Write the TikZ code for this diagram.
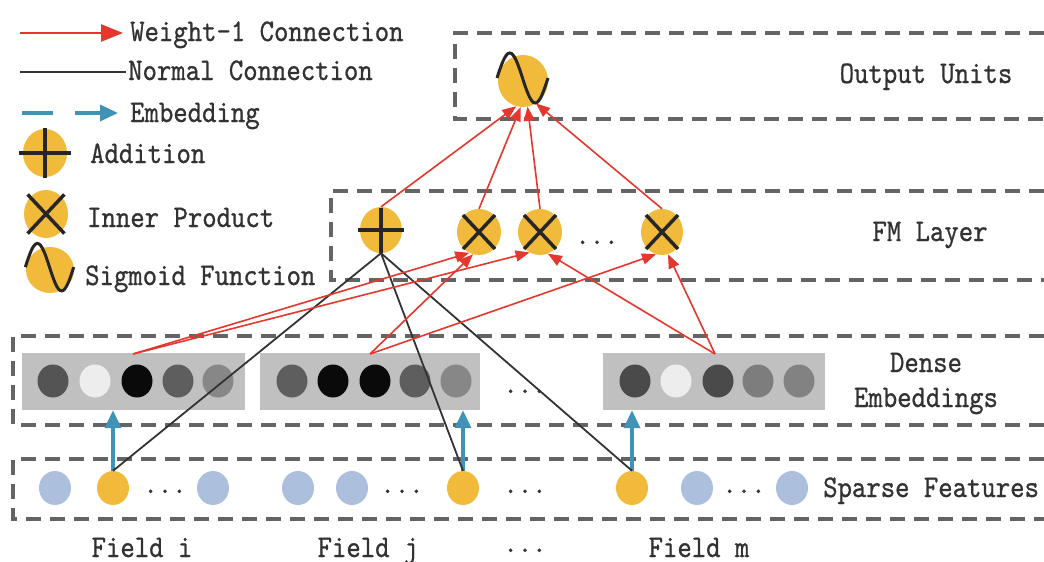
\documentclass[tikz,border=0pt]{standalone}
\usepackage{fontspec}
\usepackage{graphicx}
\usetikzlibrary{arrows.meta,shapes.geometric}
\newfontfamily\lblfont{lmmono10-regular.otf}[FakeBold=0.8]
\definecolor{redc}{RGB}{228,55,45}
\definecolor{bluec}{RGB}{64,146,182}
\definecolor{orangec}{RGB}{242,186,58}
\definecolor{sparseb}{RGB}{172,192,222}
\definecolor{rectg}{RGB}{192,192,192}
\definecolor{dashg}{RGB}{100,100,100}
\definecolor{txtc}{RGB}{50,50,50}
\newcommand{\mytx}[1]{\scalebox{1}[1.15]{#1}}
\tikzset{
  plusp/.pic={\draw[sym] (-26,0) -- (26,0); \draw[sym] (0,-25) -- (0,25);},
  crossp/.pic={\draw[sym] (-16,-17) -- (16,17) (16,-17) -- (-16,17);},
  sigp/.pic={\draw[sym,line width=3pt] (-26,-3) sin (-13.25,-28) cos (-0.5,-3) sin (12.25,22) cos (25,-3);}
}
\begin{document}
\begin{tikzpicture}[x=1pt,y=-1pt,
  lbl/.style={anchor=base west,inner sep=0pt,text=txtc,font=\lblfont\fontsize{27.4}{30}\selectfont},
  lblc/.style={lbl,anchor=base},
  dbox/.style={draw=dashg,line width=3.2pt,dash pattern=on 15pt off 9pt},
  opnode/.style={ellipse,fill=orangec,minimum width=44pt,minimum height=46pt,inner sep=0pt},
  sym/.style={line width=3.5pt,black!85,line cap=butt},
  wconn/.style={draw=redc,line width=1.6pt,-{Triangle[length=14pt,width=11pt]}},
  nconn/.style={draw=black!80,line width=1.8pt},
  econn/.style={draw=bluec,line width=3.5pt,-{Triangle[length=18pt,width=16pt]}},
  grect/.style={fill=rectg,inner sep=0pt,minimum height=57pt},
  dcirc/.style={ellipse,minimum width=31pt,minimum height=33pt,inner sep=0pt},
  scirc/.style={ellipse,minimum width=32pt,minimum height=34pt,inner sep=0pt},
]
\clip (0,0) rectangle (1044,562);
\fill[white] (0,0) rectangle (1044,562);

% dashed layer boxes
\draw[dbox] (1044,33) -| (455,119) -- (1044,119);
\draw[dbox] (1044,191) -| (331,280) -- (1044,280);
\draw[dbox] (1044,336) -| (13,425) -- (1044,425);
\draw[dbox] (1044,459) -| (13,519) -- (1044,519);

% legend
\coordinate (lwa) at (20,33); \coordinate (lwb) at (123,33);
\draw[wconn,line width=2.5pt,-{Triangle[length=22pt,width=17pt]}] (lwa) -- (lwb);
\node[lbl] (tw) at (130,41) {\mytx{Weight-1 Connection}};
\coordinate (lna) at (20,72); \coordinate (lnb) at (126,72);
\draw[nconn,line width=2.5pt] (lna) -- (lnb);
\node[lbl] (tn) at (128,80) {\mytx{Normal Connection}};
\coordinate (lea) at (22,113); \coordinate (leb) at (118,113);
\draw[econn,dash pattern=on 31pt off 22pt] (lea) -- (leb);
\node[lbl] (te) at (130,122) {\mytx{Embedding}};
\node[opnode,minimum height=48pt] (la) at (45,153) {};
\pic at (la.center) {plusp};
\node[lbl] (ta) at (90,163) {\mytx{Addition}};
\node[opnode,minimum height=48pt] (lc) at (46,214) {};
\pic[scale=1.15] at (lc.center) {crossp};
\node[lbl] (tc) at (87,227) {\mytx{Inner Product}};
\node[opnode,minimum width=48pt] (ls) at (50,270) {};
\pic[scale=0.95] at (ls.center) {sigp};
\node[lbl] (ts) at (85,285) {\mytx{Sigmoid Function}};

% layer labels
\node[lblc] (tout) at (926,83) {\mytx{Output Units}};
\node[lblc] (tfm) at (930,241) {\mytx{FM Layer}};
\node[lblc] (tde1) at (926,372) {\mytx{Dense}};
\node[lblc] (tde2) at (926,407) {\mytx{Embeddings}};
\node[lbl] (tsp) at (823,497) {\mytx{Sparse Features}};

% dense embeddings
\node[grect,minimum width=223pt] (r1) at (133.5,381.5) {};
\node[grect,minimum width=220pt] (r2) at (370,381.5) {};
\node[grect,minimum width=222pt] (r3) at (714,381.5) {};
\foreach \x/\g [count=\i] in {53/67,95/7,137/96,178/63,218/47}
  \node[dcirc,fill=black!\g] (da\i) at (\x,381) {};
\foreach \x/\g [count=\i] in {292/63,333/96,375/96,415/63,456/47}
  \node[dcirc,fill=black!\g] (db\i) at (\x,381) {};
\foreach \x/\g [count=\i] in {635/71,676/7,718/71,758/51,799/49}
  \node[dcirc,fill=black!\g] (dc\i) at (\x,381) {};
\node[lblc] (dd1) at (525,393) {...};

% sparse features
\node[scirc,fill=sparseb] (s1) at (55,488) {};
\node[scirc,fill=orangec] (fi) at (113,488) {};
\node[scirc,fill=sparseb] (s2) at (213,488) {};
\node[scirc,fill=sparseb] (s3) at (298,488) {};
\node[scirc,fill=sparseb] (s4) at (352,488) {};
\node[scirc,fill=orangec] (fj) at (463,488) {};
\node[scirc,fill=orangec] (fm) at (632,488) {};
\node[scirc,fill=sparseb] (s5) at (697,488) {};
\node[scirc,fill=sparseb] (s6) at (792,488) {};
\node[lblc] (sd1) at (165,493) {...};
\node[lblc] (sd2) at (402,493) {...};
\node[lblc] (sd3) at (525,493) {...};
\node[lblc] (sd4) at (744,493) {...};

% field labels
\node[lblc] (lfi) at (142,557) {\mytx{Field i}};
\node[lblc] (lfj) at (368,557) {\mytx{Field j}};
\node[lblc] (lfd) at (525,552) {...};
\node[lblc] (lfm) at (699,557) {\mytx{Field m}};

% FM layer
\node[opnode,minimum width=42pt] (add) at (381,230) {};
\pic[scale=0.9] at (add.center) {plusp};
\node[opnode] (c1) at (479,232) {};
\pic at (c1.center) {crossp};
\node[opnode] (c2) at (540,232) {};
\pic at (c2.center) {crossp};
\node[opnode,minimum width=42pt] (c3) at (662,232) {};
\pic at (c3.center) {crossp};
\node[lblc] (fmd) at (597,244) {...};

% output
\node[opnode,minimum width=50pt,minimum height=52pt] (out) at (523,81) {};
\pic at (out.center) {sigp};

% embedding arrows
\draw[econn] (fi.north) -- (fi.north |- r1.south);
\draw[econn] (fj.north) -- (fj.north |- r2.south);
\draw[econn] (fm.north) -- (fm.north |- r3.south);

% normal connections
\draw[nconn] (add.south) -- (fi.north);
\draw[nconn] (add.south) -- (fj.north);
\draw[nconn] (add.south) -- (fm.north);

% weight-1 connections
\coordinate (e1) at (133,354);
\coordinate (e2) at (370,354);
\coordinate (e3) at (715,354);
\draw[wconn] (e1) -- (c1.245);
\draw[wconn] (e1) -- (c2.243);
\draw[wconn] (e2) -- (c1.255);
\draw[wconn] (e2) -- (c3.255);
\draw[wconn] (e3) -- (c2.290);
\draw[wconn] (e3) -- (c3.285);
\draw[wconn] (add.north) -- (out.255);
\draw[wconn] (c1.north) -- (out.265);
\draw[wconn] (c2.north) -- (out.280);
\draw[wconn] (c3.north) -- (out.300);
\end{tikzpicture}
\end{document}
